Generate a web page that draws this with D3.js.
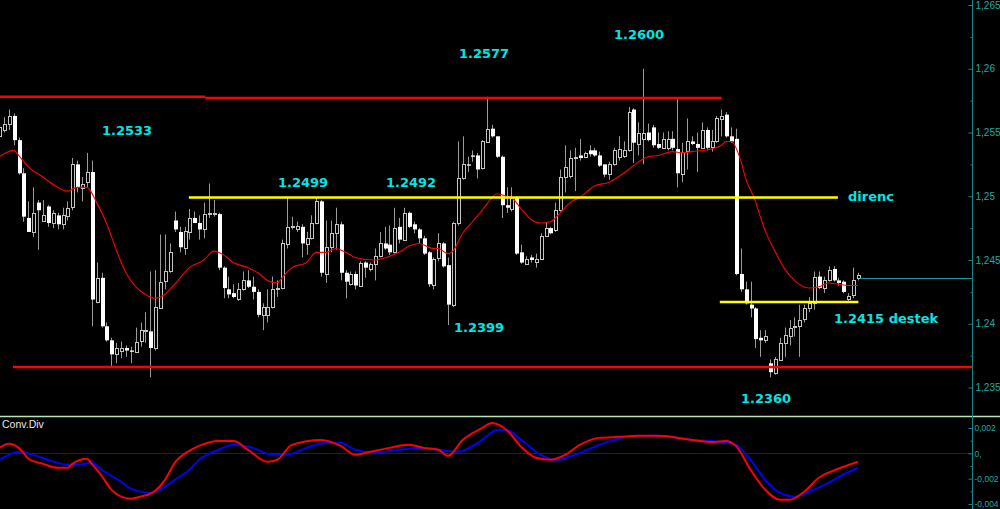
<!DOCTYPE html>
<html><head><meta charset="utf-8">
<script src="https://cdn.jsdelivr.net/npm/d3@7"></script>
<style>html,body{margin:0;padding:0;background:#000;overflow:hidden}</style>
</head><body><svg id="c" width="1000" height="509"></svg>
<script>
// ---- candle data (one bar per index) ----
const opens = [1.2547,1.2552,1.2557,1.2563,1.2544,1.2518,1.2483,1.2472,1.2495,1.2480,1.2492,1.2479,1.2485,1.2478,1.2485,1.2491,1.2525,1.2507,1.2511,1.2519,1.2417,1.2436,1.2398,1.2387,1.2376,1.2379,1.2381,1.2379,1.2378,1.2386,1.2394,1.2394,1.2381,1.2413,1.2433,1.2441,1.2481,1.2472,1.2460,1.2472,1.2483,1.2479,1.2474,1.2486,1.2486,1.2486,1.2444,1.2427,1.2424,1.2419,1.2427,1.2434,1.2429,1.2425,1.2407,1.2407,1.2413,1.2427,1.2428,1.2463,1.2476,1.2475,1.2476,1.2462,1.2467,1.2479,1.2496,1.2439,1.2460,1.2471,1.2478,1.2440,1.2431,1.2439,1.2430,1.2448,1.2443,1.2447,1.2453,1.2463,1.2462,1.2456,1.2476,1.2466,1.2487,1.2478,1.2474,1.2467,1.2456,1.2431,1.2451,1.2463,1.2446,1.2415,1.2479,1.2514,1.2525,1.2532,1.2532,1.2522,1.2543,1.2553,1.2547,1.2531,1.2493,1.2490,1.2499,1.2456,1.2447,1.2452,1.2449,1.2451,1.2469,1.2475,1.2473,1.2489,1.2515,1.2516,1.2530,1.2532,1.2531,1.2536,1.2536,1.2532,1.2525,1.2517,1.2525,1.2531,1.2531,1.2536,1.2568,1.2541,1.2545,1.2550,1.2554,1.2541,1.2538,1.2538,1.2545,1.2537,1.2518,1.2535,1.2543,1.2541,1.2538,1.2552,1.2538,1.2543,1.2561,1.2564,1.2547,1.2545,1.2439,1.2427,1.2415,1.2412,1.2389,1.2387,1.2369,1.2361,1.2372,1.2385,1.2391,1.2397,1.2398,1.2403,1.2412,1.2417,1.2437,1.2428,1.2434,1.2443,1.2434,1.2433,1.2420,1.2422,1.2436];
const highs = [1.2558,1.2562,1.2568,1.2565,1.2546,1.2522,1.2496,1.2507,1.2497,1.2497,1.2493,1.2489,1.2487,1.2491,1.2496,1.2530,1.2528,1.2515,1.2534,1.2528,1.2448,1.2440,1.2401,1.2389,1.2385,1.2386,1.2383,1.2382,1.2397,1.2401,1.2409,1.2441,1.2442,1.2470,1.2470,1.2463,1.2488,1.2476,1.2476,1.2490,1.2488,1.2485,1.2495,1.2510,1.2497,1.2487,1.2445,1.2437,1.2431,1.2432,1.2441,1.2442,1.2437,1.2427,1.2416,1.2427,1.2437,1.2434,1.2466,1.2499,1.2484,1.2480,1.2478,1.2472,1.2485,1.2499,1.2497,1.2481,1.2481,1.2491,1.2480,1.2442,1.2441,1.2441,1.2449,1.2449,1.2448,1.2459,1.2472,1.2476,1.2477,1.2491,1.2483,1.2491,1.2488,1.2480,1.2475,1.2469,1.2457,1.2452,1.2471,1.2464,1.2452,1.2480,1.2543,1.2547,1.2531,1.2536,1.2534,1.2544,1.2578,1.2556,1.2547,1.2532,1.2507,1.2507,1.2500,1.2462,1.2453,1.2454,1.2455,1.2471,1.2479,1.2476,1.2495,1.2521,1.2540,1.2536,1.2538,1.2545,1.2535,1.2540,1.2538,1.2535,1.2525,1.2527,1.2538,1.2547,1.2543,1.2570,1.2569,1.2558,1.2600,1.2557,1.2556,1.2550,1.2550,1.2551,1.2551,1.2576,1.2542,1.2561,1.2547,1.2550,1.2558,1.2554,1.2552,1.2563,1.2568,1.2566,1.2554,1.2553,1.2459,1.2433,1.2433,1.2413,1.2395,1.2395,1.2372,1.2374,1.2389,1.2397,1.2403,1.2405,1.2415,1.2415,1.2421,1.2441,1.2441,1.2437,1.2445,1.2445,1.2436,1.2434,1.2424,1.2444,1.2440];
const lows = [1.2544,1.2550,1.2552,1.2540,1.2517,1.2480,1.2472,1.2468,1.2458,1.2480,1.2476,1.2475,1.2474,1.2474,1.2481,1.2489,1.2503,1.2496,1.2507,1.2398,1.2416,1.2397,1.2386,1.2366,1.2369,1.2373,1.2374,1.2369,1.2377,1.2382,1.2385,1.2358,1.2379,1.2412,1.2427,1.2440,1.2472,1.2456,1.2454,1.2466,1.2479,1.2466,1.2467,1.2483,1.2484,1.2442,1.2420,1.2420,1.2420,1.2418,1.2426,1.2428,1.2419,1.2405,1.2395,1.2401,1.2412,1.2421,1.2427,1.2459,1.2474,1.2472,1.2452,1.2454,1.2466,1.2478,1.2437,1.2432,1.2456,1.2458,1.2434,1.2420,1.2430,1.2427,1.2429,1.2436,1.2441,1.2434,1.2452,1.2458,1.2454,1.2455,1.2463,1.2465,1.2475,1.2471,1.2463,1.2454,1.2429,1.2427,1.2449,1.2444,1.2399,1.2413,1.2477,1.2513,1.2519,1.2527,1.2514,1.2521,1.2542,1.2546,1.2530,1.2483,1.2487,1.2488,1.2454,1.2447,1.2446,1.2448,1.2444,1.2450,1.2468,1.2470,1.2472,1.2488,1.2503,1.2514,1.2504,1.2528,1.2530,1.2531,1.2531,1.2523,1.2515,1.2513,1.2524,1.2528,1.2530,1.2535,1.2526,1.2532,1.2525,1.2543,1.2538,1.2537,1.2537,1.2536,1.2536,1.2507,1.2511,1.2521,1.2540,1.2519,1.2537,1.2536,1.2535,1.2542,1.2547,1.2546,1.2542,1.2438,1.2425,1.2415,1.2405,1.2381,1.2374,1.2385,1.2358,1.2360,1.2371,1.2374,1.2383,1.2390,1.2374,1.2401,1.2409,1.2411,1.2427,1.2424,1.2433,1.2433,1.2430,1.2424,1.2418,1.2420,1.2434];
const closes = [1.2554,1.2557,1.2563,1.2544,1.2518,1.2484,1.2472,1.2487,1.2489,1.2485,1.2479,1.2487,1.2478,1.2485,1.2491,1.2525,1.2507,1.2510,1.2519,1.2419,1.2436,1.2398,1.2387,1.2376,1.2381,1.2381,1.2379,1.2378,1.2386,1.2395,1.2395,1.2381,1.2413,1.2433,1.2441,1.2456,1.2474,1.2460,1.2473,1.2483,1.2479,1.2474,1.2486,1.2487,1.2487,1.2444,1.2428,1.2423,1.2421,1.2427,1.2434,1.2429,1.2425,1.2407,1.2413,1.2413,1.2427,1.2428,1.2463,1.2476,1.2477,1.2477,1.2463,1.2467,1.2479,1.2496,1.2440,1.2460,1.2471,1.2478,1.2440,1.2433,1.2439,1.2430,1.2448,1.2444,1.2447,1.2453,1.2463,1.2459,1.2456,1.2475,1.2466,1.2487,1.2476,1.2474,1.2467,1.2455,1.2431,1.2451,1.2463,1.2445,1.2415,1.2479,1.2514,1.2525,1.2524,1.2531,1.2521,1.2543,1.2553,1.2547,1.2531,1.2493,1.2491,1.2499,1.2455,1.2448,1.2451,1.2450,1.2451,1.2469,1.2475,1.2471,1.2489,1.2515,1.2523,1.2530,1.2531,1.2530,1.2534,1.2533,1.2532,1.2524,1.2517,1.2525,1.2536,1.2537,1.2536,1.2566,1.2542,1.2550,1.2550,1.2544,1.2540,1.2538,1.2545,1.2545,1.2538,1.2518,1.2535,1.2543,1.2541,1.2538,1.2552,1.2538,1.2543,1.2561,1.2563,1.2547,1.2543,1.2439,1.2427,1.2416,1.2412,1.2388,1.2387,1.2390,1.2362,1.2372,1.2385,1.2391,1.2397,1.2398,1.2403,1.2412,1.2416,1.2437,1.2428,1.2434,1.2442,1.2434,1.2432,1.2425,1.2422,1.2434,1.2438];

// ---- moving average ----
const maIndex = [0,3,4,6,9,12,14,16,18,20,22,24,26,28,30,32,34,35,36,39,42,44,46,48,51,53,55,57,58,60,63,65,66,67,69,71,73,77,80,82,84,86,89,90,92,93,95,97,99,101,102,104,105,107,109,111,113,115,117,119,122,125,128,130,133,135,138,140,142,146,148,149,150,152,153,155,156,157,159,161,163,166,168,170,172,174,176];
const maValue = [1.2531,1.2536,1.2532,1.2523,1.2515,1.2507,1.2504,1.2507,1.2507,1.2495,1.2479,1.2458,1.2440,1.2429,1.2423,1.2420,1.2423,1.2427,1.2431,1.2444,1.2450,1.2457,1.2454,1.2448,1.2444,1.2440,1.2434,1.2432,1.2436,1.2444,1.2448,1.2456,1.2456,1.2456,1.2459,1.2456,1.2452,1.2450,1.2453,1.2456,1.2461,1.2463,1.2459,1.2459,1.2455,1.2457,1.2471,1.2480,1.2489,1.2499,1.2502,1.2500,1.2499,1.2490,1.2482,1.2479,1.2480,1.2487,1.2495,1.2499,1.2508,1.2511,1.2518,1.2524,1.2531,1.2532,1.2535,1.2534,1.2535,1.2537,1.2540,1.2543,1.2543,1.2528,1.2514,1.2496,1.2484,1.2473,1.2457,1.2443,1.2434,1.2428,1.2429,1.2432,1.2431,1.2430,1.2430];

// ---- MACD (Conv.Div) ----
const macdIndex = [0,2,4,5,6,9,12,14,15,18,19,21,23,25,27,29,31,32,34,36,39,41,45,48,51,55,57,60,66,70,73,76,80,84,87,90,92,95,99,101,104,107,110,113,116,119,123,127,131,135,142,146,149,151,154,157,160,162,165,168,172,176];
const macdValue = [0.00043,0.00075,0.00043,0.00004,-0.00043,-0.00083,-0.00114,-0.00114,-0.00083,-0.00043,-0.00083,-0.00177,-0.00287,-0.00342,-0.00358,-0.00342,-0.00319,-0.00295,-0.00209,-0.00075,0.00020,0.00059,0.00098,0.00098,0.00028,-0.00067,-0.00051,0.00067,0.00106,0.00059,-0.00012,0.00012,0.00043,0.00067,0.00043,0.00028,-0.00020,0.00106,0.00201,0.00240,0.00185,0.00051,-0.00035,-0.00051,-0.00012,0.00067,0.00122,0.00130,0.00138,0.00138,0.00106,0.00090,0.00098,0.00059,-0.00130,-0.00287,-0.00366,-0.00366,-0.00303,-0.00193,-0.00122,-0.00067];
const signalIndex = [0,2,4,7,10,14,16,19,21,25,27,31,33,36,39,41,45,48,52,56,59,63,67,70,73,77,82,86,90,94,99,102,104,107,111,114,118,123,129,135,142,148,151,154,157,160,163,166,170,173,176];
const signalValue = [-0.00051,-0.00012,0.00012,-0.00012,-0.00051,-0.00090,-0.00090,-0.00075,-0.00130,-0.00224,-0.00279,-0.00311,-0.00287,-0.00209,-0.00130,-0.00051,0.00028,0.00067,0.00043,-0.00012,-0.00012,0.00043,0.00083,0.00083,0.00028,0.00004,0.00028,0.00043,0.00028,0.00012,0.00106,0.00185,0.00185,0.00106,-0.00012,-0.00051,-0.00012,0.00067,0.00130,0.00138,0.00106,0.00090,0.00067,-0.00051,-0.00209,-0.00311,-0.00342,-0.00303,-0.00232,-0.00169,-0.00114];

// ---- level lines (start index, end index, price) ----
const levelStart = [-1, 42.2, 2.85, 38.9, 147.7, 176.4];
const levelEnd   = [42.2, 148.1, 999, 171.9, 176.1, 999];
const levelPrice = [1.2578, 1.2577, 1.2366, 1.2499, 1.2417, 1.2436];
const levelKind  = ["res","res","sup","mid","sup2","last"];

// ---- axis ticks ----
const priceTicks = [1.235,1.24,1.245,1.25,1.255,1.26,1.265];
const priceTickLabels = ["1,235","1,24","1,245","1,25","1,255","1,26","1,265"];
const macdTicks = [0.002,0,-0.002,-0.004];
const macdTickLabels = ["0,002","0,","-0,002","-0,004"];

// ---- annotations ----
const noteText = ["1.2533","1.2499","1.2492","1.2577","1.2600","direnc","1.2399","1.2415 destek","1.2360"];

// ================= drawing =================
const W = 1000, H = 509, axisX = 972;
const svg = d3.select("#c");
svg.append("rect").attr("width", W).attr("height", H).attr("fill", "#000");

const x = d3.scaleLinear().domain([0, 176]).range([-0.9, 857.9]);
const y = d3.scaleLinear().domain([1.235, 1.265]).range([387.5, 5]);
const y2 = d3.scaleLinear().domain([-0.004, 0.002]).range([504, 428]);

const candles = opens.map((o, i) => ({i, o, h: highs[i], l: lows[i], c: closes[i]}));

const main = svg.append("g");
main.append("defs").append("clipPath").attr("id","clipMain")
  .append("rect").attr("x",0).attr("y",0).attr("width",axisX).attr("height",415);
const plot = main.append("g").attr("clip-path","url(#clipMain)");

// wicks
plot.selectAll("line.wick").data(candles).join("line")
  .attr("class","wick")
  .attr("x1", d => Math.round(x(d.i)) + 0.5)
  .attr("x2", d => Math.round(x(d.i)) + 0.5)
  .attr("y1", d => y(d.h)).attr("y2", d => y(d.l))
  .attr("stroke", "#9a9a9a").attr("stroke-width", 1);

// bodies
plot.selectAll("rect.body").data(candles).join("rect")
  .attr("class","body")
  .attr("x", d => d.c < d.o ? Math.round(x(d.i)) - 1 : Math.round(x(d.i)) - 0.5)
  .attr("width", d => d.c < d.o ? 4 : 3)
  .attr("y", d => {
    const t = y(Math.max(d.o, d.c));
    return d.c < d.o ? t : Math.round(t) + 0.5;
  })
  .attr("height", d => {
    const hgt = Math.abs(y(d.o) - y(d.c));
    return d.c < d.o ? Math.max(1, hgt) : Math.max(0, Math.round(hgt));
  })
  .attr("fill", d => d.c < d.o ? "#ffffff" : "#000000")
  .attr("stroke", d => d.c < d.o ? "none" : "#c4c4c4")
  .attr("stroke-width", 1);

// moving average
const maPts = maIndex.map((k, j) => [k, maValue[j]]);
plot.append("path").datum(maPts)
  .attr("d", d3.line().x(d => x(d[0])).y(d => y(d[1])).curve(d3.curveMonotoneX))
  .attr("fill","none").attr("stroke","#ff0000").attr("stroke-width",1.1);

// level lines
const levelStyle = {
  res: {c:"#ff0000", w:2.5},
  sup: {c:"#ff0000", w:2.5},
  mid: {c:"#ffff00", w:2.5},
  sup2:{c:"#ffff00", w:2.5},
  last:{c:"#1a9a9a", w:1}
};
const levels = levelPrice.map((p, j) => ({p, s: levelStart[j], e: levelEnd[j], k: levelKind[j]}));
main.selectAll("line.level").data(levels).join("line")
  .attr("class","level")
  .attr("x1", d => Math.max(0, x(d.s)))
  .attr("x2", d => Math.min(axisX, x(d.e)))
  .attr("y1", d => d.k === "last" ? Math.round(y(d.p)) + 0.5 : y(d.p))
  .attr("y2", d => d.k === "last" ? Math.round(y(d.p)) + 0.5 : y(d.p))
  .attr("stroke", d => levelStyle[d.k].c)
  .attr("stroke-width", d => levelStyle[d.k].w);

// annotations
const notePos = [[102,135],[278,187],[386,187],[459,58],[614,39],[848,201],[454,332],[834,323],[741,403]];
svg.selectAll("text.note").data(noteText).join("text")
  .attr("class","note")
  .attr("x", (d, j) => notePos[j][0]).attr("y", (d, j) => notePos[j][1])
  .attr("fill","#00e6e6")
  .attr("font-family","'DejaVu Sans', Verdana, sans-serif")
  .attr("font-weight","bold").attr("font-size","13px")
  .text(d => d);

// ---- lower panel ----
svg.append("line").attr("x1",0).attr("x2",W).attr("y1",416.5).attr("y2",416.5)
  .attr("stroke","#b8e6b8").attr("stroke-width",1.5);
svg.append("line").attr("x1",0).attr("x2",axisX)
  .attr("y1", Math.round(y2(0)) + 0.5).attr("y2", Math.round(y2(0)) + 0.5)
  .attr("stroke","#7a0000").attr("stroke-width",1);
svg.append("text").attr("x",2).attr("y",427.5).attr("fill","#e8e8e8")
  .attr("font-family","'Liberation Sans', Arial, sans-serif").attr("font-size","10.5px")
  .text("Conv.Div");

const line2 = d3.line().x(d => x(d[0])).y(d => y2(d[1])).curve(d3.curveMonotoneX);
svg.append("path").datum(signalIndex.map((k, j) => [k, signalValue[j]]))
  .attr("d", line2).attr("fill","none").attr("stroke","#0000ff").attr("stroke-width",2);
svg.append("path").datum(macdIndex.map((k, j) => [k, macdValue[j]]))
  .attr("d", line2).attr("fill","none").attr("stroke","#ff0000").attr("stroke-width",2);

// ---- right axis ----
svg.append("line").attr("x1",axisX+0.5).attr("x2",axisX+0.5).attr("y1",0).attr("y2",H)
  .attr("stroke","#118888").attr("stroke-width",1);

function styleAxis(g, size){
  g.select(".domain").remove();
  g.selectAll(".tick line").attr("stroke","#118888");
  g.selectAll(".tick text").attr("fill","#20a8a8")
    .attr("font-family","'Liberation Sans', Arial, sans-serif").attr("font-size", size || "10px");
}
const ax1 = svg.append("g").attr("transform",`translate(${axisX+0.5},0)`)
  .call(d3.axisRight(y).tickValues(priceTicks).tickFormat((d,j) => priceTickLabels[j])
    .tickSizeInner(-4).tickSizeOuter(0).tickPadding(3));
styleAxis(ax1);
const ax1m = svg.append("g").attr("transform",`translate(${axisX+0.5},0)`)
  .call(d3.axisRight(y).tickValues(priceTicks.slice(0,-1).map(v => v + 0.0025)).tickFormat("")
    .tickSizeInner(-2).tickSizeOuter(0));
styleAxis(ax1m);
const ax2 = svg.append("g").attr("transform",`translate(${axisX+0.5},0)`)
  .call(d3.axisRight(y2).tickValues(macdTicks).tickFormat((d,j) => macdTickLabels[j])
    .tickSizeInner(-4).tickSizeOuter(0).tickPadding(2));
styleAxis(ax2, "8.5px");
const ax2m = svg.append("g").attr("transform",`translate(${axisX+0.5},0)`)
  .call(d3.axisRight(y2).tickValues([0.001,-0.001,-0.003]).tickFormat("")
    .tickSizeInner(-2).tickSizeOuter(0));
styleAxis(ax2m);
</script>
</body></html>
